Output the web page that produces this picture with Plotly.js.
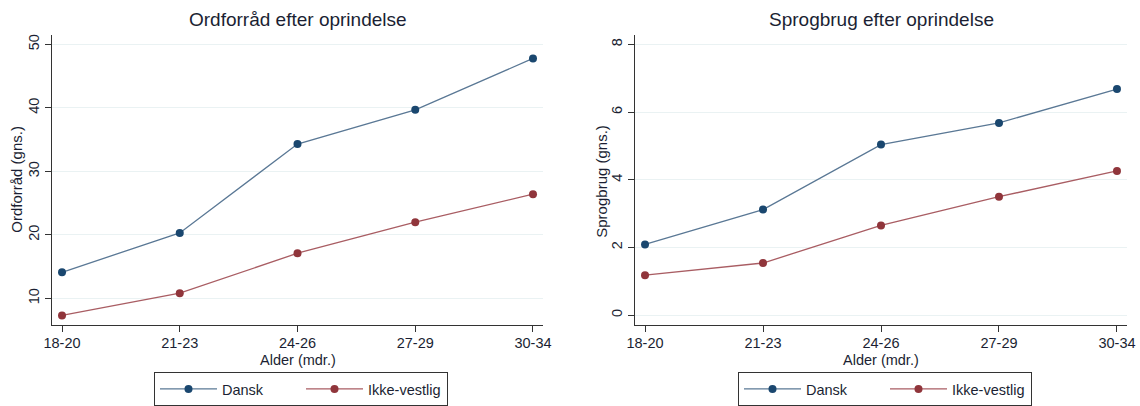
<!DOCTYPE html>
<html><head><meta charset="utf-8">
<script src="https://cdn.plot.ly/plotly-3.0.1.min.js"></script>
<style>html,body{margin:0;padding:0;background:#fff}#chart{width:1140px;height:406px}</style>
</head><body><div id="chart"></div>
<script>
const ageGroups = ['18-20', '21-23', '24-26', '27-29', '30-34'];
const seriesNames = ['Dansk', 'Ikke-vestlig'];
const vocabDansk = [14.1, 20.3, 34.3, 39.7, 47.8];
const vocabIkke = [7.3, 10.8, 17.1, 22.0, 26.4];
const useDansk = [2.09, 3.12, 5.04, 5.68, 6.68];
const useIkke = [1.18, 1.54, 2.65, 3.50, 4.26];
const leftTicks = [10, 20, 30, 40, 50];
const rightTicks = [0, 2, 4, 6, 8];
const titles = ['Ordforråd efter oprindelse', 'Sprogbrug efter oprindelse'];
const yTitles = ['Ordforråd (gns.)', 'Sprogbrug (gns.)'];
const xTitle = 'Alder (mdr.)';

const W = 1140, H = 406;
const FONT = 'Arial, "Liberation Sans", sans-serif';
const TXT = '#1b1f33';
const navyM = '#1a476f', navyL = '#5a7895';
const marM = '#90353b', marL = '#a95d63';

function tr(y, name, xa, ya, lg, lc, mc) {
  return {x: ageGroups, y: y, name: name, type: 'scatter', mode: 'lines+markers',
    xaxis: xa, yaxis: ya, legend: lg,
    line: {color: lc, width: 1.3}, marker: {color: mc, size: 8}};
}
const data = [
  tr(vocabDansk, seriesNames[0], 'x', 'y', 'legend', navyL, navyM),
  tr(vocabIkke, seriesNames[1], 'x', 'y', 'legend', marL, marM),
  tr(useDansk, seriesNames[0], 'x2', 'y2', 'legend2', navyL, navyM),
  tr(useIkke, seriesNames[1], 'x2', 'y2', 'legend2', marL, marM)
];

const yDom = [(H - 329) / H, (H - 35) / H];
function xax(dom, anchor) {
  return {domain: dom, anchor: anchor, type: 'category', range: [-0.085, 4.085],
    showline: true, linecolor: '#333', linewidth: 1.2, ticks: 'outside', ticklen: 6,
    tickcolor: '#333', tickwidth: 1, showgrid: false, zeroline: false,
    ticklabelstandoff: -2,
    tickfont: {size: 14.5, color: TXT, family: FONT}, fixedrange: true};
}
function yax(range, tickvals, anchor) {
  return {domain: yDom, anchor: anchor, range: range, tickvals: tickvals,
    showline: true, linecolor: '#333', linewidth: 1.2, ticks: 'outside', ticklen: 6,
    tickcolor: '#333', tickwidth: 1, showgrid: true, gridcolor: '#eaf2f3', gridwidth: 1,
    zeroline: false, tickangle: -90,
    tickfont: {size: 14.5, color: TXT, family: FONT}, fixedrange: true};
}
function legendCfg(x) {
  return {orientation: 'h', x: x / W, y: (H - 377) / H, xanchor: 'left', yanchor: 'top',
    bordercolor: '#333', borderwidth: 1, bgcolor: '#fff', itemwidth: 57,
    entrywidth: 74, entrywidthmode: 'pixels',
    font: {size: 14.5, color: TXT, family: FONT}, traceorder: 'normal',
    itemclick: false, itemdoubleclick: false};
}
function ann(text, x, y, size, angle) {
  return {text: text, x: x / W, y: (H - y) / H, xref: 'paper', yref: 'paper',
    showarrow: false, xanchor: 'center', yanchor: 'middle', textangle: angle || 0,
    borderpad: 0,
    font: {size: size, color: TXT, family: FONT}};
}
const layout = {
  width: W, height: H, margin: {l: 0, r: 0, t: 0, b: 0},
  paper_bgcolor: '#fff', plot_bgcolor: '#fff', showlegend: true,
  xaxis: xax([52 / W, 543 / W], 'y'),
  yaxis: yax([5.8, 51.56], leftTicks, 'x'),
  xaxis2: xax([635 / W, 1127 / W], 'y2'),
  yaxis2: yax([-0.29, 8.29], rightTicks, 'x2'),
  legend: legendCfg(154),
  legend2: legendCfg(738),
  annotations: [
    ann(titles[0], 297.5, 20, 19),
    ann(titles[1], 881, 20, 19),
    ann(xTitle, 297.5, 364, 14.5),
    ann(xTitle, 881, 364, 14.5),
    ann(yTitles[0], 17, 182, 15, -90),
    ann(yTitles[1], 602, 184, 15, -90)
  ]
};
Plotly.newPlot('chart', data, layout, {displayModeBar: false, staticPlot: true});
</script></body></html>
